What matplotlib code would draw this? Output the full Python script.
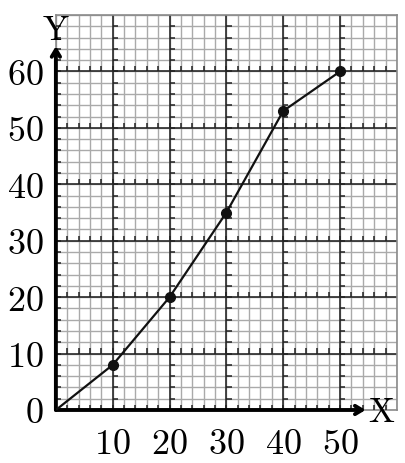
import numpy as np
import matplotlib.pyplot as plt

plt.rcParams['mathtext.fontset'] = 'cm'

# data
x_vals = [0, 10, 20, 30, 40, 50]
y_vals = [0, 8, 20, 35, 53, 60]
x_ticks = [10, 20, 30, 40, 50]
y_ticks = [0, 10, 20, 30, 40, 50, 60]

x_max, y_max = 60, 70

fig = plt.figure(figsize=(4.05, 4.63), dpi=100)
ax = fig.add_axes([0.138, 0.1145, 0.842, 0.853])
ax.set_xlim(0, x_max)
ax.set_ylim(0, y_max)

# graph paper: minor lines every 2, major every 10
for v in np.arange(0, x_max + 1, 2):
    ax.axvline(v, color='#aaaaaa', lw=1.0, zorder=1)
for v in np.arange(0, y_max + 1, 2):
    ax.axhline(v, color='#aaaaaa', lw=1.0, zorder=1)
for v in np.arange(10, x_max, 10):
    ax.axvline(v, color='#2a2a2a', lw=1.2, zorder=2)
for v in np.arange(10, y_max, 10):
    ax.axhline(v, color='#2a2a2a', lw=1.2, zorder=2)

# small ticks on one side of the major lines
xm = np.arange(2, x_max, 2)
ym = np.arange(2, y_max, 2)
for yv in np.arange(0, y_max, 10):
    ax.vlines(xm, yv, yv + 0.9, color='#222222', lw=1.1, zorder=3)
for xv in np.arange(0, x_max, 10):
    ax.hlines(ym, xv, xv + 0.9, color='#222222', lw=1.1, zorder=3)

for s in ax.spines.values():
    s.set_color('#8a8a8a')
    s.set_linewidth(1.2)

# axes with arrows
arrow = dict(arrowstyle='->,head_length=0.5,head_width=0.3',
             lw=2.8, color='black', shrinkA=0, shrinkB=0)
ax.annotate('', xy=(54.5, 0), xytext=(0, 0), annotation_clip=False,
            arrowprops=arrow, zorder=5)
ax.annotate('', xy=(0, 64.5), xytext=(0, 0), annotation_clip=False,
            arrowprops=arrow, zorder=5)
ax.text(57.3, -0.3, r'$\mathrm{X}$', fontsize=25, ha='center', va='center', zorder=6)
ax.text(0, 67.3, r'$\mathrm{Y}$', fontsize=25, ha='center', va='center', zorder=6)

# curve
ax.plot(x_vals, y_vals, color='#111111', lw=1.6, zorder=6)
ax.plot(x_vals[1:], y_vals[1:], ls='none', marker='o', ms=7, color='#111111', zorder=7)

ax.set_xticks(x_ticks, [f'${t}$' for t in x_ticks])
ax.set_yticks(y_ticks, [f'${t}$' for t in y_ticks])
ax.tick_params(axis='x', length=0, pad=12, labelsize=26)
ax.tick_params(axis='y', length=0, pad=9, labelsize=26)

fig.savefig('out.png', dpi=100)
